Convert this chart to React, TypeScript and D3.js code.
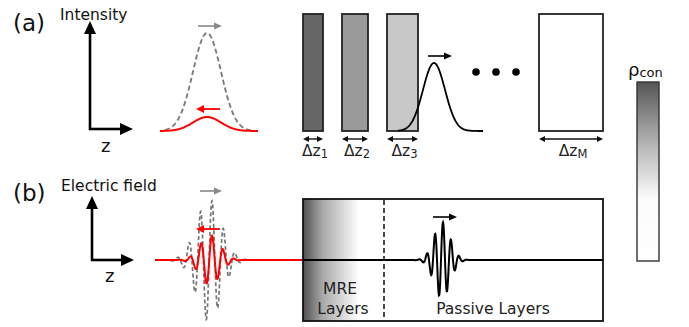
import React from "react";
import * as d3 from "d3";

// ---- diagram data ----
const layerLabels = ["1", "2", "3", "M"];
const layerFills = ["#666666", "#9a9a9a", "#c8c8c8", "#ffffff"];
const layerX0 = [303, 342, 387, 539];
const layerX1 = [323, 368, 418, 603];
const dotXs = [476, 496, 516];
// pulses: [center, amplitude, sigma]
const grayIntensity = [207, 98, 14];
const redIntensity = [207, 14, 14];
const blackIntensity = [434, 68, 11];
// field packets: [center, amplitude, sigma, period, phaseRef]
const grayField = [209, 61, 12.5, 11.5, 212];
const redField = [210, 25, 10, 11, 212];
const boxField = [442, 38, 8, 8, 443];
const colorStops = [
  { o: 0, c: "#555555" },
  { o: 0.35, c: "#b5b5b5" },
  { o: 0.65, c: "#fbfbfb" },
  { o: 1, c: "#ffffff" },
];

const FONT = "DejaVu Sans, Verdana, sans-serif";

function gaussPath(p: number[], x0: number, x1: number, base: number) {
  const [c, a, s] = p;
  const xs = d3.range(x0, x1 + 0.5, 0.5);
  const y = d3.scaleLinear().domain([0, 1]).range([base, base - a]);
  return d3
    .line<number>()
    .x((x) => x)
    .y((x) => y(Math.exp(-((x - c) ** 2) / (2 * s * s))))(xs) as string;
}

function fieldPath(p: number[], x0: number, x1: number, base: number) {
  const [c, a, s, per, ref] = p;
  const xs = d3.range(x0, x1 + 0.25, 0.25);
  const y = d3.scaleLinear().domain([-1, 1]).range([base + a, base - a]);
  return d3
    .line<number>()
    .x((x) => x)
    .y((x) =>
      y(Math.exp(-((x - c) ** 2) / (2 * s * s)) * Math.cos((2 * Math.PI * (x - ref)) / per))
    )(xs) as string;
}

function Arrow({ x1, y1, x2, y2, color, w = 1.6, head = 7, hw = 3.5 }: any) {
  const ang = Math.atan2(y2 - y1, x2 - x1);
  const bx = x2 - head * Math.cos(ang);
  const by = y2 - head * Math.sin(ang);
  const px = -Math.sin(ang) * hw;
  const py = Math.cos(ang) * hw;
  return (
    <g>
      <line x1={x1} y1={y1} x2={bx} y2={by} stroke={color} strokeWidth={w} />
      <polygon
        points={`${x2},${y2} ${bx + px},${by + py} ${bx - px},${by - py}`}
        fill={color}
      />
    </g>
  );
}

function DoubleArrow({ x1, x2, y }: any) {
  return (
    <g>
      <line x1={x1 + 5} y1={y} x2={x2 - 5} y2={y} stroke="#111" strokeWidth={1.4} />
      <polygon points={`${x1},${y} ${x1 + 6},${y - 3} ${x1 + 6},${y + 3}`} fill="#111" />
      <polygon points={`${x2},${y} ${x2 - 6},${y - 3} ${x2 - 6},${y + 3}`} fill="#111" />
    </g>
  );
}

export default function App() {
  return (
    <svg
      width={689}
      height={327}
      style={{ position: "absolute", left: 0, top: 0, background: "#fff" }}
      fontFamily={FONT}
    >
      <defs>
        <linearGradient id="cbar" x1="0" y1="0" x2="0" y2="1">
          {colorStops.map((s, i) => (
            <stop key={i} offset={s.o} stopColor={s.c} />
          ))}
        </linearGradient>
        <linearGradient id="mre" x1="0" y1="0" x2="1" y2="0">
          <stop offset="0" stopColor="#505050" />
          <stop offset="0.35" stopColor="#a8a8a8" />
          <stop offset="1" stopColor="#ffffff" />
        </linearGradient>
      </defs>

      {/* ---------- (a) ---------- */}
      <text x={13} y={31} fontSize={23} fill="#111">(a)</text>
      <text x={60} y={20} fontSize={15.5} fill="#111">Intensity</text>
      <Arrow x1={90} y1={130} x2={90} y2={21} color="#000" w={2.6} head={13} hw={6} />
      <Arrow x1={89} y1={129} x2={133} y2={129} color="#000" w={2.6} head={13} hw={6} />
      <text x={101} y={152} fontSize={18} fill="#111">z</text>

      <path d={gaussPath(grayIntensity, 165, 252, 131)} fill="none" stroke="#777" strokeWidth={1.8} strokeDasharray="5,3" />
      <path d={gaussPath(redIntensity, 160, 258, 131)} fill="none" stroke="#ff0000" strokeWidth={2} />
      <Arrow x1={198} y1={26} x2={222} y2={26} color="#888" w={1.6} head={8} hw={3.5} />
      <Arrow x1={220} y1={109} x2={196} y2={109} color="#ff0000" w={1.8} head={8} hw={4} />

      {layerX0.map((x0, i) => (
        <g key={i}>
          <rect x={x0} y={14} width={layerX1[i] - x0} height={117} fill={layerFills[i]} stroke="#222" strokeWidth={1.8} />
          <DoubleArrow x1={x0} x2={layerX1[i]} y={139} />
          <text x={(x0 + layerX1[i]) / 2 + 2} y={156} fontSize={15.5} fill="#222" textAnchor="middle">
            Δz
            <tspan fontSize={11.5} dy={2}>{layerLabels[i]}</tspan>
          </text>
        </g>
      ))}
      <path d={gaussPath(blackIntensity, 398, 483, 131)} fill="none" stroke="#000" strokeWidth={1.8} />
      <Arrow x1={428} y1={56} x2={452} y2={56} color="#000" w={1.6} head={8} hw={3.5} />
      {dotXs.map((x, i) => (
        <circle key={i} cx={x} cy={72} r={3.8} fill="#000" />
      ))}

      {/* colour bar */}
      <text x={628} y={76} fontSize={18} fill="#111">
        ρ<tspan fontSize={13} dy={1}>con</tspan>
      </text>
      <rect x={637} y={82} width={22} height={179} fill="url(#cbar)" stroke="#333" strokeWidth={1.4} />

      {/* ---------- (b) ---------- */}
      <text x={13} y={201} fontSize={23} fill="#111">(b)</text>
      <text x={61} y={191} fontSize={15.5} fill="#111">Electric field</text>
      <Arrow x1={92} y1={261} x2={92} y2={196} color="#000" w={2.6} head={13} hw={6} />
      <Arrow x1={91} y1={260} x2={134} y2={260} color="#000" w={2.6} head={13} hw={6} />
      <text x={105} y={282} fontSize={18} fill="#111">z</text>

      <path d={fieldPath(grayField, 158, 262, 260)} fill="none" stroke="#777" strokeWidth={1.7} strokeDasharray="4,2.5" />
      <path d={fieldPath(redField, 155, 304, 260)} fill="none" stroke="#ff0000" strokeWidth={2} />
      <Arrow x1={200} y1={191} x2={222} y2={191} color="#888" w={1.6} head={8} hw={3.5} />
      <Arrow x1={220} y1={229} x2={196} y2={229} color="#ff0000" w={1.8} head={8} hw={4} />

      <rect x={303} y={199} width={300} height={122} fill="#fff" />
      <rect x={303} y={199} width={56} height={122} fill="url(#mre)" />
      <rect x={303} y={199} width={300} height={122} fill="none" stroke="#111" strokeWidth={1.8} />
      <line x1={384} y1={200} x2={384} y2={320} stroke="#111" strokeWidth={1.5} strokeDasharray="5,3" />
      <path d={fieldPath(boxField, 303, 603, 260)} fill="none" stroke="#000" strokeWidth={2} />
      <Arrow x1={433} y1={217} x2={457} y2={217} color="#000" w={1.6} head={8} hw={3.5} />
      <text x={340} y={294} fontSize={15.5} fill="#222" textAnchor="middle">MRE</text>
      <text x={343} y={314} fontSize={15.5} fill="#222" textAnchor="middle">Layers</text>
      <text x={493} y={314} fontSize={15.5} fill="#222" textAnchor="middle">Passive Layers</text>
    </svg>
  );
}
